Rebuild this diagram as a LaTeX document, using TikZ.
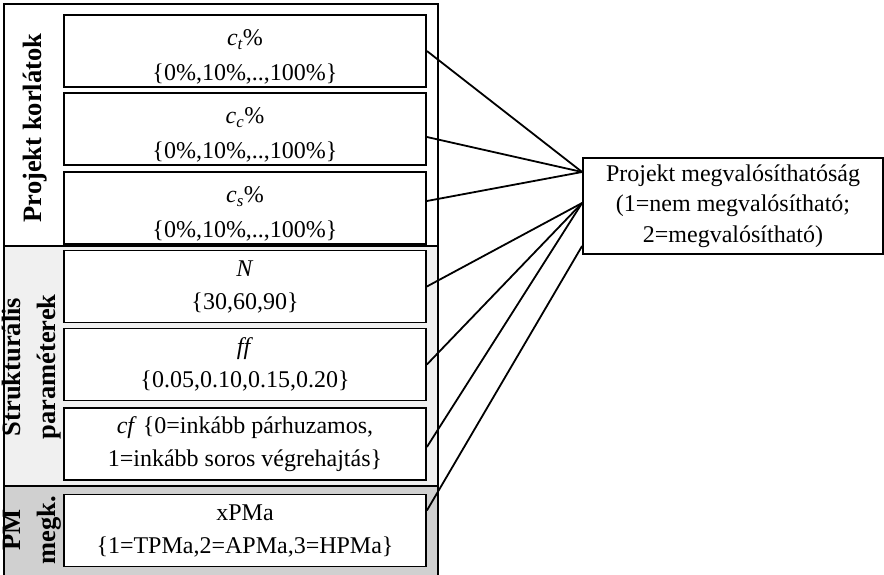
\documentclass[tikz,border=0pt]{standalone}
\usepackage{fontspec}
\setmainfont{Liberation Serif}
\usetikzlibrary{calc}
\definecolor{grpA}{RGB}{240,240,240}
\definecolor{grpB}{RGB}{208,208,208}
\newcommand{\lowstrut}{\rule{0pt}{28pt}}
\begin{document}
\begin{tikzpicture}[x=1pt,y=-1pt,
  box/.style={draw, line width=1.8pt, fill=white, minimum width=362pt, minimum height=72pt,
    inner sep=0pt, align=center, font=\fontsize{24}{33}\selectfont},
  grp/.style={draw, line width=1.8pt},
  lbl/.style={rotate=90, align=center, inner sep=0pt, font=\fontsize{26.5}{35}\selectfont\bfseries},
  conn/.style={line width=1.8pt}]
\useasboundingbox (0,0) rectangle (884,575);
% groups
\path[grp, fill=white] (4,4) rectangle (438,246);
\path[grp, fill=grpA] (4,246) rectangle (438,486);
\path[grp, fill=grpB] (4,486) rectangle (438,585);
% group labels
\node[lbl] (g1) at (35,128) {Projekt korlátok};
\node[lbl] (g2) at (32,367) {Strukturális\\paraméterek};
\node[lbl] (g3) at (32,530) {PM\\megk.};
% boxes
\node[box] (b1) at (245,51) {\lowstrut\textit{c\textsubscript{t}}\%\\[2pt]\{0\%,10\%,..,100\%\}};
\node[box] (b2) at (245,129) {\lowstrut\textit{c\textsubscript{c}}\%\\[2pt]\{0\%,10\%,..,100\%\}};
\node[box] (b3) at (245,208) {\lowstrut\textit{c\textsubscript{s}}\%\\[2pt]\{0\%,10\%,..,100\%\}};
\node[box] (b4) at (245,286.5) {\textit{N}\\\{30,60,90\}};
\node[box] (b5) at (245,364.5) {\textit{ff}\\\{0.05,0.10,0.15,0.20\}};
\node[box] (b6) at (245,444) {\textit{cf} \{0=inkább párhuzamos,\\1=inkább soros végrehajtás\}};
\node[box] (b7) at (245,530.5) {xPMa\\\{1=TPMa,2=APMa,3=HPMa\}};
% target
\node[box, minimum width=300pt, minimum height=96pt, font=\fontsize{24}{30.5}\selectfont] (t) at (733,206)
  {Projekt megvalósíthatóság\\(1=nem megvalósítható;\\2=megvalósítható)};
% connectors
\coordinate (tA) at ($(t.west)+(0,-34)$);
\coordinate (tB) at ($(t.west)+(0,-3)$);
\coordinate (tC) at ($(t.west)+(0,40)$);
\draw[conn] (b1.east) -- (tA);
\draw[conn] ($(b2.east)+(0,8)$) -- (tA);
\draw[conn] ($(b3.east)+(0,-7)$) -- (tA);
\draw[conn] (b4.east) -- (tB);
\draw[conn] (b5.east) -- (tB);
\draw[conn] ($(b6.east)+(0,3)$) -- (tB);
\draw[conn] ($(b7.east)+(0,-20)$) -- (tC);
\end{tikzpicture}
\end{document}
